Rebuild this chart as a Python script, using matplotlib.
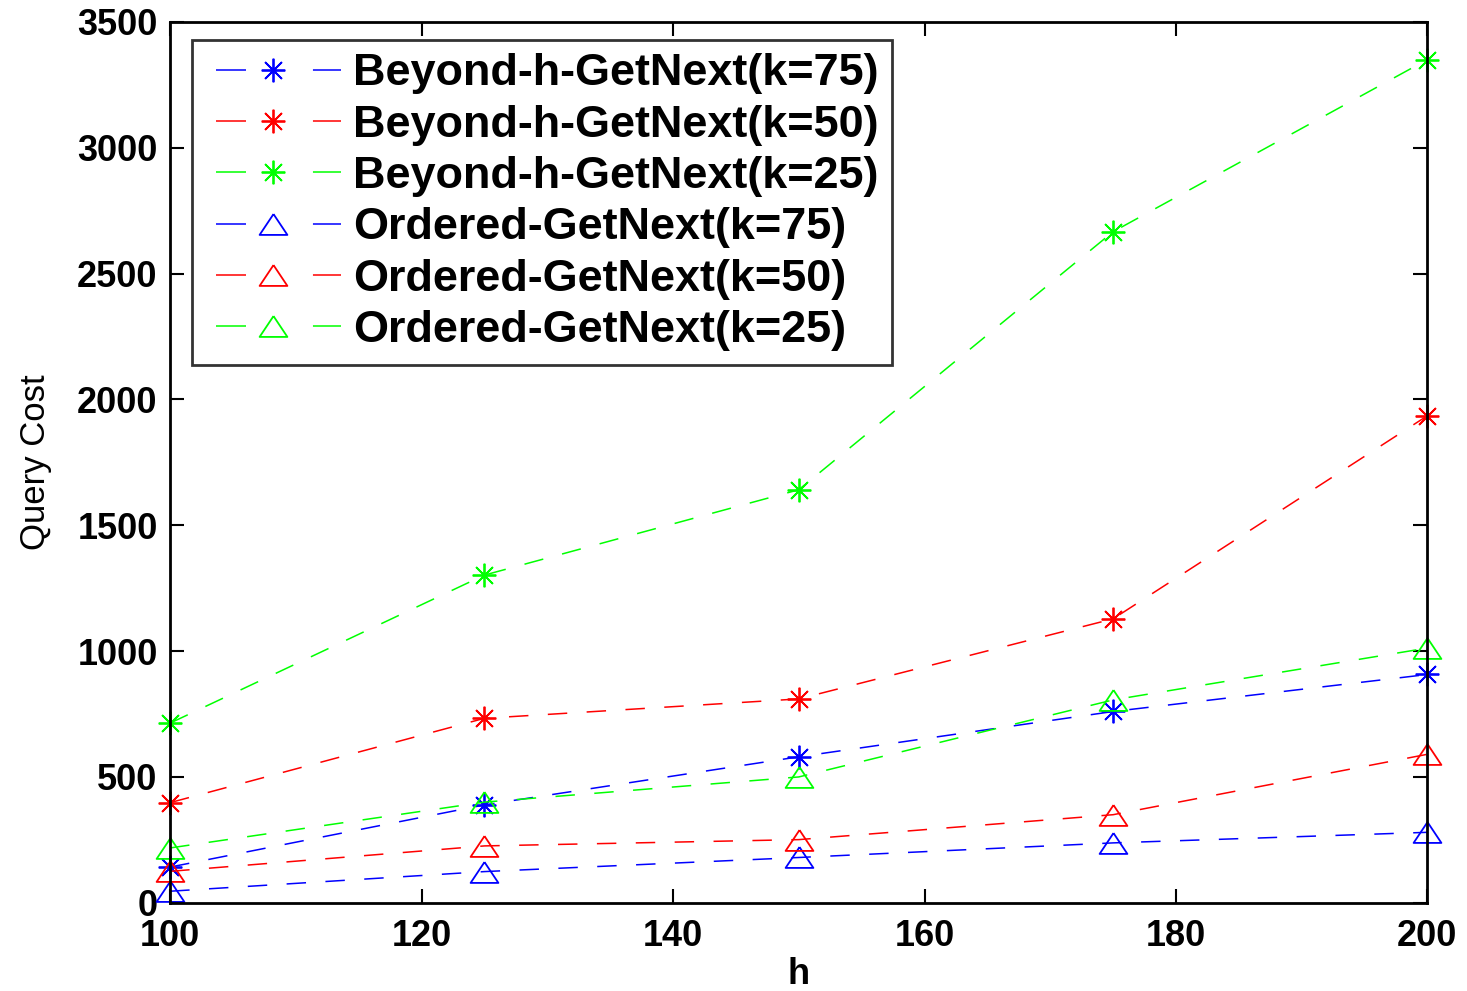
import matplotlib
matplotlib.use("Agg")
import matplotlib.pyplot as plt

h = [100, 125, 150, 175, 200]
beyond_k75 = [142, 389, 580, 760, 907]
beyond_k50 = [398, 733, 810, 1128, 1935]
beyond_k25 = [714, 1302, 1641, 2666, 3350]
ordered_k75 = [46, 124, 180, 238, 280]
ordered_k50 = [125, 226, 251, 350, 590]
ordered_k25 = [218, 400, 500, 806, 1012]

labels = ["Beyond-h-GetNext(k=75)", "Beyond-h-GetNext(k=50)", "Beyond-h-GetNext(k=25)",
          "Ordered-GetNext(k=75)", "Ordered-GetNext(k=50)", "Ordered-GetNext(k=25)"]
xticks = [100, 120, 140, 160, 180, 200]
yticks = [0, 500, 1000, 1500, 2000, 2500, 3000, 3500]

plt.rcParams['font.family'] = ['Liberation Sans', 'DejaVu Sans']
plt.rcParams['lines.scale_dashes'] = False

fig = plt.figure(figsize=(14.67, 9.91), dpi=100)
ax = fig.add_axes([0.116, 0.089, 0.857, 0.889])

star = (8, 2, 0)
tri = [(0, 0.75), (-1, -0.75), (1, -0.75), (0, 0.75)]
series = [
    (beyond_k75, 'b', star, 17),
    (beyond_k50, 'r', star, 17),
    (beyond_k25, '#00ff00', star, 17),
    (ordered_k75, 'b', tri, 20),
    (ordered_k50, 'r', tri, 20),
    (ordered_k25, '#00ff00', tri, 20),
]
for (vals, c, m, ms), lab in zip(series, labels):
    ax.plot(h, vals, color=c, lw=1.1, dashes=(14, 14), marker=m, ms=ms,
            mfc='none', mec=c, mew=1.3, label=lab, clip_on=False)

ax.set_xlim(100, 200)
ax.set_ylim(0, 3500)
ax.set_xticks(xticks)
ax.set_yticks(yticks)
ax.tick_params(direction='in', length=10, width=1.5, top=True, right=True,
               labelsize=26)
ax.tick_params(axis='x', pad=12)
ax.tick_params(axis='y', pad=9)
for lbl in ax.get_xticklabels() + ax.get_yticklabels():
    lbl.set_fontweight('bold')
for s in ax.spines.values():
    s.set_linewidth(2)

ax.set_xlabel('h', fontsize=26, fontweight='bold', labelpad=2)
ax.set_ylabel('Query Cost', fontsize=25, labelpad=18)

leg = ax.legend(loc='upper left', bbox_to_anchor=(0.0175, 0.9796),
                borderaxespad=0, fontsize=32.4, frameon=True, fancybox=False,
                edgecolor='black', handlelength=3.0,
                handletextpad=0.27, labelspacing=0.23, borderpad=0.3)
leg.get_frame().set_linewidth(2)
for t in leg.get_texts():
    t.set_fontweight('bold')
for ln in leg.get_lines():
    ln.set_linestyle((62.6, (21.6, 48.2)))

fig.savefig('out.png', dpi=100)
